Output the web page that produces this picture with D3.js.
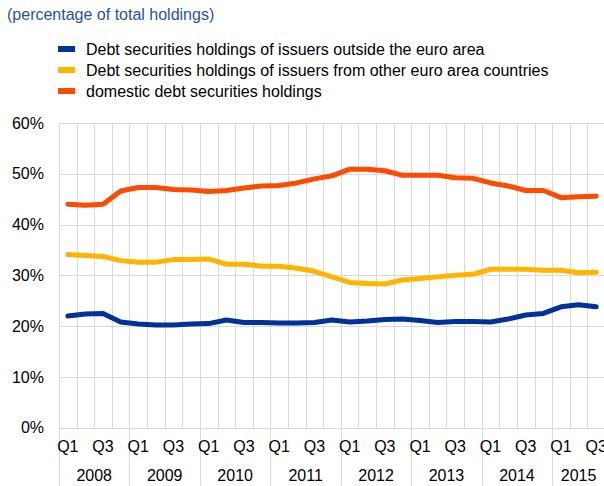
<!DOCTYPE html>
<html>
<head>
<meta charset="utf-8">
<script src="https://cdn.jsdelivr.net/npm/d3@7"></script>
<style>
  body { margin: 0; background: #fff; }
  svg { display: block; font-family: "Liberation Sans", Arial, sans-serif; }
</style>
</head>
<body>
<svg width="604" height="486"></svg>
<script>
var years = ["2008", "2009", "2010", "2011", "2012", "2013", "2014", "2015"];
var quarters = ["Q1", "Q2", "Q3", "Q4"];

var outsideEA = [22.0, 22.4, 22.5, 20.8, 20.4, 20.2, 20.2, 20.4, 20.5, 21.2, 20.7, 20.7, 20.6, 20.6, 20.7, 21.2,
                 20.8, 21.0, 21.3, 21.4, 21.1, 20.7, 20.9, 20.9, 20.8, 21.4, 22.2, 22.5, 23.8, 24.2, 23.8];
var otherEA = [34.1, 33.9, 33.7, 32.9, 32.6, 32.6, 33.1, 33.1, 33.2, 32.2, 32.2, 31.8, 31.8, 31.4, 30.8, 29.7,
               28.6, 28.4, 28.3, 29.1, 29.4, 29.7, 30.0, 30.2, 31.2, 31.2, 31.2, 31.0, 31.0, 30.5, 30.6];
var domestic = [44.0, 43.8, 44.0, 46.6, 47.3, 47.3, 46.9, 46.8, 46.5, 46.7, 47.2, 47.6, 47.7, 48.2, 49.0, 49.6,
                50.9, 50.9, 50.6, 49.7, 49.7, 49.7, 49.2, 49.1, 48.2, 47.6, 46.7, 46.7, 45.3, 45.5, 45.6];
var yTicks = [0, 10, 20, 30, 40, 50, 60];

var seriesNames = [
    "Debt securities holdings of issuers outside the euro area",
    "Debt securities holdings of issuers from other euro area countries",
    "domestic debt securities holdings"
];
var seriesColors = ["#003299", "#ffb400", "#ff4b00"];
var seriesValues = [outsideEA, otherEA, domestic];

// period keys, 2008 Q1 .. 2015 Q3
var periods = [];
years.forEach(function (y) {
    quarters.forEach(function (q) { periods.push({year: y, q: q, key: y + q}); });
});
periods = periods.slice(0, outsideEA.length);

var svg = d3.select("svg"),
    margin = {top: 123, right: 0, bottom: 58, left: 59},
    width = 604 - margin.left - margin.right + 1,
    height = 486 - margin.top - margin.bottom - 0.3,
    g = svg.append("g").attr("transform", "translate(" + margin.left + "," + margin.top + ")");

var scaleX = d3.scaleBand().domain(periods.map(function (d) { return d.key; })).range([0, width]);
var scaleY = d3.scaleLinear().domain([0, 60]).range([height, 0]);

// title
svg.append("text")
    .attr("x", 7).attr("y", 20)
    .style("font-size", "16px")
    .style("fill", "#1f54a6")
    .text("(percentage of total holdings)");

// legend
var legend = svg.append("g").attr("transform", "translate(58,49)");
seriesNames.forEach(function (name, i) {
    var row = legend.append("g").attr("transform", "translate(0," + (i * 21) + ")");
    row.append("rect").attr("x", 0).attr("y", -3).attr("width", 17).attr("height", 6).attr("fill", seriesColors[i]);
    row.append("text").attr("x", 28).attr("y", 5.5).style("font-size", "16px").style("fill", "#000").text(name);
});

// horizontal grid
g.selectAll(".hgrid").data(yTicks).enter().append("line")
    .attr("x1", 0).attr("x2", width)
    .attr("y1", function (d) { return Math.round(scaleY(d)) + 0.5; })
    .attr("y2", function (d) { return Math.round(scaleY(d)) + 0.5; })
    .attr("stroke", "#d9d9d9").attr("stroke-width", 1);

// vertical grid at band boundaries; year boundaries run down past the labels
g.selectAll(".vgrid").data(periods).enter().append("line")
    .attr("x1", function (d) { return Math.round(scaleX(d.key)) + 0.5; })
    .attr("x2", function (d) { return Math.round(scaleX(d.key)) + 0.5; })
    .attr("y1", 0)
    .attr("y2", function (d) { return d.q === "Q1" ? height + margin.bottom : height; })
    .attr("stroke", "#d9d9d9").attr("stroke-width", 1);

// y labels
g.selectAll(".ylab").data(yTicks).enter().append("text")
    .attr("x", -15)
    .attr("y", function (d) { return scaleY(d); })
    .attr("dy", "0.35em")
    .attr("text-anchor", "end")
    .style("font-size", "16px")
    .text(function (d) { return d + "%"; });

// quarter labels
g.selectAll(".qlab").data(periods.filter(function (d) { return d.q === "Q1" || d.q === "Q3"; }))
    .enter().append("text")
    .attr("x", function (d) { return scaleX(d.key) + scaleX.bandwidth() / 2; })
    .attr("y", height + 24)
    .attr("text-anchor", "middle")
    .style("font-size", "16px")
    .text(function (d) { return d.q; });

// year labels
g.selectAll(".ylabel").data(years).enter().append("text")
    .attr("x", function (y) {
        var ps = periods.filter(function (d) { return d.year === y; });
        var x0 = scaleX(ps[0].key), x1 = scaleX(ps[ps.length - 1].key) + scaleX.bandwidth();
        return (x0 + x1) / 2;
    })
    .attr("y", height + 53)
    .attr("text-anchor", "middle")
    .style("font-size", "16px")
    .text(function (d) { return d; });

// lines
var line = d3.line()
    .x(function (d, i) { return scaleX(periods[i].key) + scaleX.bandwidth() / 2; })
    .y(function (d) { return scaleY(d); });

seriesValues.forEach(function (vals, i) {
    g.append("path")
        .attr("d", line(vals))
        .attr("fill", "none")
        .attr("stroke", seriesColors[i])
        .attr("stroke-width", 5)
        .attr("stroke-linejoin", "round")
        .attr("stroke-linecap", "round");
});
</script>
</body>
</html>
